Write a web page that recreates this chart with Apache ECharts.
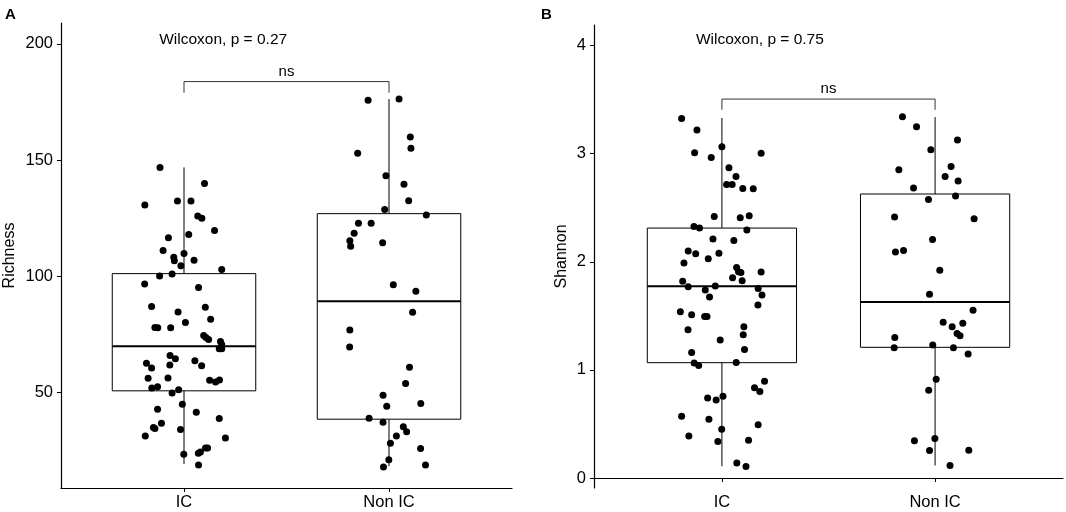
<!DOCTYPE html>
<html>
<head>
<meta charset="UTF-8">
<title>Richness / Shannon</title>
<script src="https://cdn.jsdelivr.net/npm/echarts@6/dist/echarts.min.js"></script>
<style>
    html, body { margin: 0; padding: 0; background: #fff; }
    #main { width: 1066px; height: 512px; }
</style>
</head>
<body>
<div id="main"></div>
<script>
var groups = ['IC', 'Non IC'];
var richnessTicks = [50, 100, 150, 200];
var shannonTicks = [0, 1, 2, 3, 4];

// points: [jitter offset from the group centre, value]
var richnessIC = [
    [-0.117, 146.9], [0.100, 140], [-0.191, 130.7], [-0.032, 132.4], [0.034, 132.4],
    [0.067, 126], [0.087, 125], [0.149, 119.7], [-0.076, 116.6], [0.023, 118],
    [-0.102, 111.2], [0.000, 109.9], [-0.050, 108.3], [-0.047, 106.7], [0.049, 107],
    [-0.015, 104.6], [0.184, 103], [-0.119, 100.2], [-0.058, 101], [-0.192, 96.7],
    [0.071, 95.2], [-0.158, 87.1], [0.104, 86.7], [-0.029, 84.7], [0.130, 81.6],
    [0.007, 80.2], [-0.142, 78.0], [-0.128, 77.9], [-0.065, 77.9], [0.096, 74.6],
    [0.107, 73.7], [0.120, 72.9], [0.178, 72], [0.184, 70.7], [0.172, 68.9],
    [0.184, 68.9], [-0.068, 66], [-0.042, 64.6], [0.053, 63.7], [-0.183, 62.7],
    [-0.158, 60.6], [-0.069, 61.9], [0.086, 61.6], [-0.175, 56.2], [-0.078, 56.3],
    [0.125, 55.3], [0.154, 54.6], [0.173, 55.4], [-0.157, 52.0], [-0.129, 52.6],
    [-0.058, 49.9], [-0.026, 51.3], [-0.008, 45], [-0.129, 42.9], [0.060, 41.6],
    [0.172, 38.9], [-0.149, 35.0], [-0.142, 34.6], [-0.110, 36.9], [-0.017, 34.2],
    [-0.189, 31.4], [0.202, 30.5], [-0.001, 23.5], [0.070, 24], [0.080, 24.5],
    [0.105, 26.2], [0.115, 26.2], [0.071, 18.9]
];
var richnessNonIC = [
    [-0.102, 175.8], [0.049, 176.3], [0.104, 160], [0.107, 155.1], [-0.153, 153],
    [-0.015, 143.3], [0.073, 139.6], [0.096, 132.5], [-0.021, 128.8], [0.182, 126.4],
    [-0.149, 122.9], [-0.087, 122.9], [-0.170, 118.6], [-0.191, 115.3], [-0.187, 113],
    [-0.031, 114.5], [0.021, 96.4], [0.131, 93.6], [0.115, 84.6], [-0.191, 77],
    [-0.192, 69.6], [0.100, 60.9], [0.081, 54], [-0.029, 48.9], [-0.011, 44.2],
    [0.155, 45.3], [-0.097, 39], [-0.029, 37.3], [0.070, 35.3], [0.086, 33.2],
    [0.036, 31.4], [0.007, 28.3], [0.154, 26], [-0.001, 21.1], [-0.027, 18],
    [0.178, 18.9]
];
var shannonIC = [
    [-0.189, 3.325], [-0.117, 3.218], [0.000, 3.064], [-0.128, 3.008], [-0.050, 2.965],
    [0.184, 3.005], [0.033, 2.870], [0.066, 2.789], [0.022, 2.715], [0.048, 2.715],
    [0.098, 2.678], [0.147, 2.676], [-0.036, 2.420], [0.086, 2.408], [0.128, 2.426],
    [-0.131, 2.327], [-0.105, 2.312], [0.117, 2.294], [-0.042, 2.211], [0.056, 2.198],
    [-0.158, 2.100], [-0.123, 2.075], [-0.014, 2.078], [-0.064, 2.029], [-0.178, 1.989],
    [0.069, 1.948], [0.078, 1.909], [0.089, 1.902], [0.050, 1.853], [0.095, 1.825],
    [0.184, 1.906], [-0.184, 1.819], [-0.158, 1.770], [-0.031, 1.776], [-0.078, 1.739],
    [-0.058, 1.675], [0.170, 1.754], [0.188, 1.693], [0.169, 1.601], [-0.195, 1.539],
    [-0.142, 1.511], [-0.081, 1.493], [-0.070, 1.493], [0.103, 1.400], [0.100, 1.326],
    [-0.159, 1.372], [-0.008, 1.277], [0.106, 1.188], [-0.142, 1.160], [-0.130, 1.065],
    [-0.109, 1.040], [0.067, 1.068], [0.200, 0.895], [0.153, 0.836], [0.178, 0.800],
    [-0.067, 0.741], [-0.027, 0.723], [0.005, 0.756], [-0.189, 0.571], [-0.061, 0.544],
    [0.170, 0.492], [-0.001, 0.451], [-0.155, 0.390], [0.125, 0.349], [-0.019, 0.337],
    [0.070, 0.140], [0.113, 0.106]
];
var shannonNonIC = [
    [-0.153, 3.341], [-0.087, 3.249], [0.105, 3.126], [-0.020, 3.036], [-0.170, 2.851],
    [0.075, 2.882], [0.047, 2.789], [0.108, 2.747], [-0.101, 2.682], [-0.031, 2.577],
    [0.096, 2.608], [-0.190, 2.414], [0.183, 2.398], [-0.012, 2.207], [-0.186, 2.091],
    [-0.148, 2.105], [0.022, 1.921], [-0.026, 1.699], [0.178, 1.551], [0.038, 1.440],
    [0.080, 1.400], [0.130, 1.431], [0.103, 1.336], [0.117, 1.317], [-0.189, 1.301],
    [-0.192, 1.206], [-0.011, 1.231], [0.086, 1.206], [0.155, 1.148], [0.005, 0.913],
    [-0.030, 0.811], [-0.097, 0.344], [-0.001, 0.365], [-0.026, 0.254], [0.158, 0.257],
    [0.070, 0.116]
];

// box: [lower whisker, Q1, median, Q3, upper whisker]
var richnessBoxIC = [19.3, 50.8, 70.0, 101.2, 146.9];
var richnessBoxNonIC = [18.4, 38.6, 89.3, 127.0, 176.3];
var shannonBoxIC = [0.109, 1.067, 1.773, 2.312, 3.330];
var shannonBoxNonIC = [0.116, 1.209, 1.628, 2.627, 3.338];

var richnessTest = 'Wilcoxon, p = 0.27';
var shannonTest = 'Wilcoxon, p = 0.75';
var signifLabel = 'ns';

var FONT = '"Liberation Sans", Arial, Helvetica, sans-serif';

function points(list, centre) {
    return list.map(function (p) { return [centre + p[0], p[1]]; });
}

function renderBox(params, api) {
    var x = api.value(0), half = 0.35;
    var tl = api.coord([x - half, api.value(4)]);
    var br = api.coord([x + half, api.value(2)]);
    var med = api.value(3);
    var mL = api.coord([x - half, med]);
    var mR = api.coord([x + half, med]);
    var lo = api.coord([x, api.value(1)]);
    var hi = api.coord([x, api.value(5)]);
    var ln = { stroke: '#000', lineWidth: 1 };
    return {
        type: 'group',
        children: [
            { type: 'line', shape: { x1: hi[0], y1: hi[1], x2: hi[0], y2: tl[1] }, style: ln },
            { type: 'line', shape: { x1: lo[0], y1: br[1], x2: lo[0], y2: lo[1] }, style: ln },
            { type: 'rect', shape: { x: tl[0], y: tl[1], width: br[0] - tl[0], height: br[1] - tl[1] },
              style: { fill: '#fff', stroke: '#000', lineWidth: 1 } },
            { type: 'line', shape: { x1: mL[0], y1: mL[1], x2: mR[0], y2: mR[1] },
              style: { stroke: '#000', lineWidth: 2 } }
        ]
    };
}

// bracket + "ns" + test label
function annotation(idx, testText, textX, textY, brLow, brHigh, nsY) {
    return {
        type: 'custom',
        xAxisIndex: idx, yAxisIndex: idx,
        data: [[1, brHigh]],
        z: 4,
        silent: true,
        renderItem: function (params, api) {
            var a = api.coord([1, brLow]), b = api.coord([1, brHigh]);
            var c = api.coord([2, brHigh]), d = api.coord([2, brLow]);
            var ns = api.coord([1.5, nsY]);
            var t = api.coord([textX, textY]);
            return {
                type: 'group',
                children: [
                    { type: 'polyline', shape: { points: [a, b, c, d] },
                      style: { stroke: '#333', lineWidth: 1, fill: null } },
                    { type: 'text', style: { text: signifLabel, x: ns[0], y: ns[1], fill: '#000',
                      font: '15px ' + FONT, align: 'center', verticalAlign: 'middle' } },
                    { type: 'text', style: { text: testText, x: t[0], y: t[1], fill: '#000',
                      font: '15.5px ' + FONT, align: 'left', verticalAlign: 'middle' } }
                ]
            };
        }
    };
}

function xAxis(idx) {
    return {
        type: 'value', gridIndex: idx, min: 0.4, max: 2.6,
        splitLine: { show: false },
        axisLine: { lineStyle: { color: '#000', width: 1.2 } },
        axisTick: { length: 4, customValues: [1, 2], lineStyle: { color: '#000' } },
        axisLabel: {
            customValues: [1, 2], margin: 6, color: '#000', fontSize: 16.5, fontFamily: FONT,
            formatter: function (v) { return groups[Math.round(v) - 1]; }
        }
    };
}

function yAxis(idx, name, min, max, ticks, gap) {
    return {
        type: 'value', gridIndex: idx, min: min, max: max,
        name: name, nameLocation: 'middle', nameGap: gap,
        nameTextStyle: { color: '#000', fontSize: 16, fontFamily: FONT },
        splitLine: { show: false },
        axisLine: { show: true, lineStyle: { color: '#000', width: 1.2 } },
        axisTick: { show: true, length: 4, customValues: ticks, lineStyle: { color: '#000' } },
        axisLabel: { customValues: ticks, margin: 8, color: '#000', fontSize: 16.5, fontFamily: FONT }
    };
}

var chart = echarts.init(document.getElementById('main'));

var option = {
    animation: false,
    backgroundColor: '#fff',
    grid: [
        { left: 61, top: 23, width: 451, height: 465 },
        { left: 594, top: 25, width: 469, height: 463 }
    ],
    xAxis: [xAxis(0), xAxis(1)],
    yAxis: [
        yAxis(0, 'Richness', 9, 209, richnessTicks, 43),
        yAxis(1, 'Shannon', -0.092, 4.19, shannonTicks, 24)
    ],
    graphic: [
        { type: 'text', left: 5, top: 7, style: { text: 'A', font: 'bold 15px ' + FONT, fill: '#000' } },
        { type: 'text', left: 541, top: 7, style: { text: 'B', font: 'bold 15px ' + FONT, fill: '#000' } }
    ],
    series: [
        {
            type: 'custom', xAxisIndex: 0, yAxisIndex: 0, z: 2, silent: true,
            renderItem: renderBox,
            encode: { x: 0, y: [1, 2, 3, 4, 5] },
            data: [[1].concat(richnessBoxIC), [2].concat(richnessBoxNonIC)]
        },
        {
            type: 'scatter', xAxisIndex: 0, yAxisIndex: 0, z: 3, silent: true,
            symbolSize: 7, itemStyle: { color: '#000', opacity: 1 },
            data: points(richnessIC, 1).concat(points(richnessNonIC, 2))
        },
        annotation(0, richnessTest, 0.879, 201.7, 179, 183.8, 188.1),
        {
            type: 'custom', xAxisIndex: 1, yAxisIndex: 1, z: 2, silent: true,
            renderItem: renderBox,
            encode: { x: 0, y: [1, 2, 3, 4, 5] },
            data: [[1].concat(shannonBoxIC), [2].concat(shannonBoxNonIC)]
        },
        {
            type: 'scatter', xAxisIndex: 1, yAxisIndex: 1, z: 3, silent: true,
            symbolSize: 7, itemStyle: { color: '#000', opacity: 1 },
            data: points(shannonIC, 1).concat(points(shannonNonIC, 2))
        },
        annotation(1, shannonTest, 0.878, 4.05, 3.406, 3.505, 3.60)
    ]
};

chart.setOption(option);
</script>
</body>
</html>
